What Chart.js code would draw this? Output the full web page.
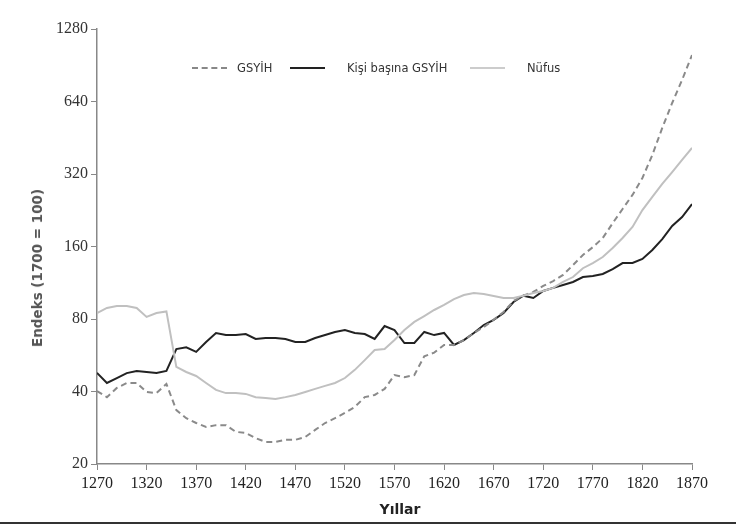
<!DOCTYPE html>
<html>
<head>
<meta charset="utf-8">
<script src="https://cdn.jsdelivr.net/npm/chart.js@4.4.1/dist/chart.umd.min.js"></script>
<style>
  body { margin: 0; background: #fff; }
  #wrap { position: relative; width: 736px; height: 527px; overflow: hidden; }
  .lg { position: absolute; font-family: 'DejaVu Sans', sans-serif; font-size: 11.5px; color: #333; top: 60px; line-height: 16px; }
  .ln { position: absolute; top: 67px; width: 35px; height: 0; }
  #ytitle { position: absolute; left: 37px; top: 268px; transform: translate(-50%, -50%) rotate(-90deg); font-family: 'DejaVu Sans', sans-serif; font-weight: bold; font-size: 13.5px; color: #555; white-space: nowrap; }
  #xtitle { position: absolute; left: 400px; top: 509px; transform: translate(-50%, -50%); font-family: 'DejaVu Sans', sans-serif; font-weight: bold; font-size: 14px; color: #222; }
  #bottom { position: absolute; left: 0; top: 522px; width: 736px; height: 2px; background: #333; }
</style>
</head>
<body>
<div id="wrap">
  <canvas id="chart" width="736" height="527"></canvas>
  <div class="ln" style="left:192px; border-top:2px dashed #888;"></div>
  <div class="lg" style="left:237px;">GSYİH</div>
  <div class="ln" style="left:290px; border-top:2px solid #222;"></div>
  <div class="lg" style="left:347px;">Kişi başına GSYİH</div>
  <div class="ln" style="left:470px; border-top:2px solid #ccc;"></div>
  <div class="lg" style="left:527px;">Nüfus</div>
  <div id="ytitle">Endeks (1700 = 100)</div>
  <div id="xtitle">Yıllar</div>
  <div id="bottom"></div>
</div>
<script>
const years = [1270, 1280, 1290, 1300, 1310, 1320, 1330, 1340, 1350, 1360,
  1370, 1380, 1390, 1400, 1410, 1420, 1430, 1440, 1450, 1460,
  1470, 1480, 1490, 1500, 1510, 1520, 1530, 1540, 1550, 1560,
  1570, 1580, 1590, 1600, 1610, 1620, 1630, 1640, 1650, 1660,
  1670, 1680, 1690, 1700, 1710, 1720, 1730, 1740, 1750, 1760,
  1770, 1780, 1790, 1800, 1810, 1820, 1830, 1840, 1850, 1860, 1870];

// GSYİH
const gdp = [40.2, 37.9, 41.4, 43.4, 43.4, 39.8, 39.4, 43, 33.5, 31,
  29.6, 28.5, 29, 29, 27.2, 26.9, 25.6, 24.7, 24.7, 25.2,
  25.2, 25.9, 27.7, 29.6, 31, 32.6, 34.5, 37.9, 38.7, 41,
  46.8, 45.9, 46.8, 56, 58, 62.4, 62.4, 65.4, 70, 74.1,
  79.4, 85.5, 95, 100, 103.6, 109.7, 115, 121.9, 134, 147.5,
  159, 173.5, 200, 229, 262, 308, 384, 497, 631, 786, 998];

// Kişi başına GSYİH
const gdpPerHead = [47.8, 43.4, 45.5, 47.7, 48.7, 48.2, 47.7, 48.7, 60, 61,
  58.4, 64.2, 70, 68.6, 68.6, 69.3, 66.1, 66.7, 66.7, 66.1,
  64.2, 64.2, 66.7, 68.6, 70.7, 72, 70, 69.3, 66.1, 74.8,
  72, 63.6, 63.6, 70.7, 68.6, 70, 62.4, 65.4, 70, 75.5,
  79.4, 84.7, 94.1, 100, 97.8, 104.6, 107.7, 110.7, 114, 119.5,
  120.7, 123, 129, 136.6, 136.6, 142, 154.8, 171.8, 194.7, 212, 240];

// Nüfus
const population = [84.7, 88.9, 90.6, 90.6, 88.9, 81.6, 84.7, 86, 50.6, 48.2,
  46.4, 43.4, 40.6, 39.4, 39.4, 39.1, 37.9, 37.6, 37.2, 37.9,
  38.7, 39.8, 41, 42.2, 43.4, 45.5, 49.2, 54, 59.5, 60,
  65.4, 72, 77.8, 82.3, 87.2, 91.5, 96.8, 100.6, 102.6, 101.6,
  99.7, 97.8, 97.8, 100, 102.6, 104.6, 107.7, 114, 119.5, 130,
  136.6, 144.7, 157.7, 173.5, 192.8, 226.7, 256.9, 290.9, 326, 366, 411];

const yTicks = [20, 40, 80, 160, 320, 640, 1280];

const toPoints = vals => vals.map((v, i) => ({ x: years[i], y: v }));

const ctx = document.querySelector('#chart').getContext('2d');

new Chart(ctx, {
    type: 'line',
    data: {
        datasets: [
            {
                label: 'Nüfus',
                data: toPoints(population),
                borderColor: '#c0c0c0',
                borderWidth: 2
            },
            {
                label: 'GSYİH',
                data: toPoints(gdp),
                borderColor: '#8a8a8a',
                borderWidth: 2,
                borderDash: [6, 4]
            },
            {
                label: 'Kişi başına GSYİH',
                data: toPoints(gdpPerHead),
                borderColor: '#222',
                borderWidth: 2
            }
        ]
    },
    options: {
        responsive: false,
        animation: false,
        elements: { point: { radius: 0 }, line: { tension: 0 } },
        layout: { padding: { left: 0, top: 29, right: 44, bottom: 0 } },
        plugins: { legend: { display: false }, tooltip: { enabled: false } },
        scales: {
            x: {
                type: 'linear',
                min: 1270,
                max: 1870,
                afterFit: s => { s.height = 63; },
                ticks: {
                    stepSize: 50,
                    autoSkip: false,
                    maxRotation: 0,
                    padding: 4,
                    color: '#222',
                    font: { family: 'Liberation Serif', size: 16 },
                    callback: v => String(v)
                },
                grid: { drawOnChartArea: false, tickLength: 6, color: '#888' },
                border: { color: '#888', width: 1.5 }
            },
            y: {
                type: 'logarithmic',
                min: 20,
                max: 1280,
                afterFit: s => { s.width = 97; },
                afterBuildTicks: s => { s.ticks = yTicks.map(v => ({ value: v })); },
                ticks: {
                    padding: 3,
                    color: '#333',
                    font: { family: 'Liberation Serif', size: 16 },
                    callback: v => String(v)
                },
                grid: { drawOnChartArea: false, tickLength: 6, color: '#888' },
                border: { color: '#888', width: 1.5 }
            }
        }
    }
});
</script>
</body>
</html>
